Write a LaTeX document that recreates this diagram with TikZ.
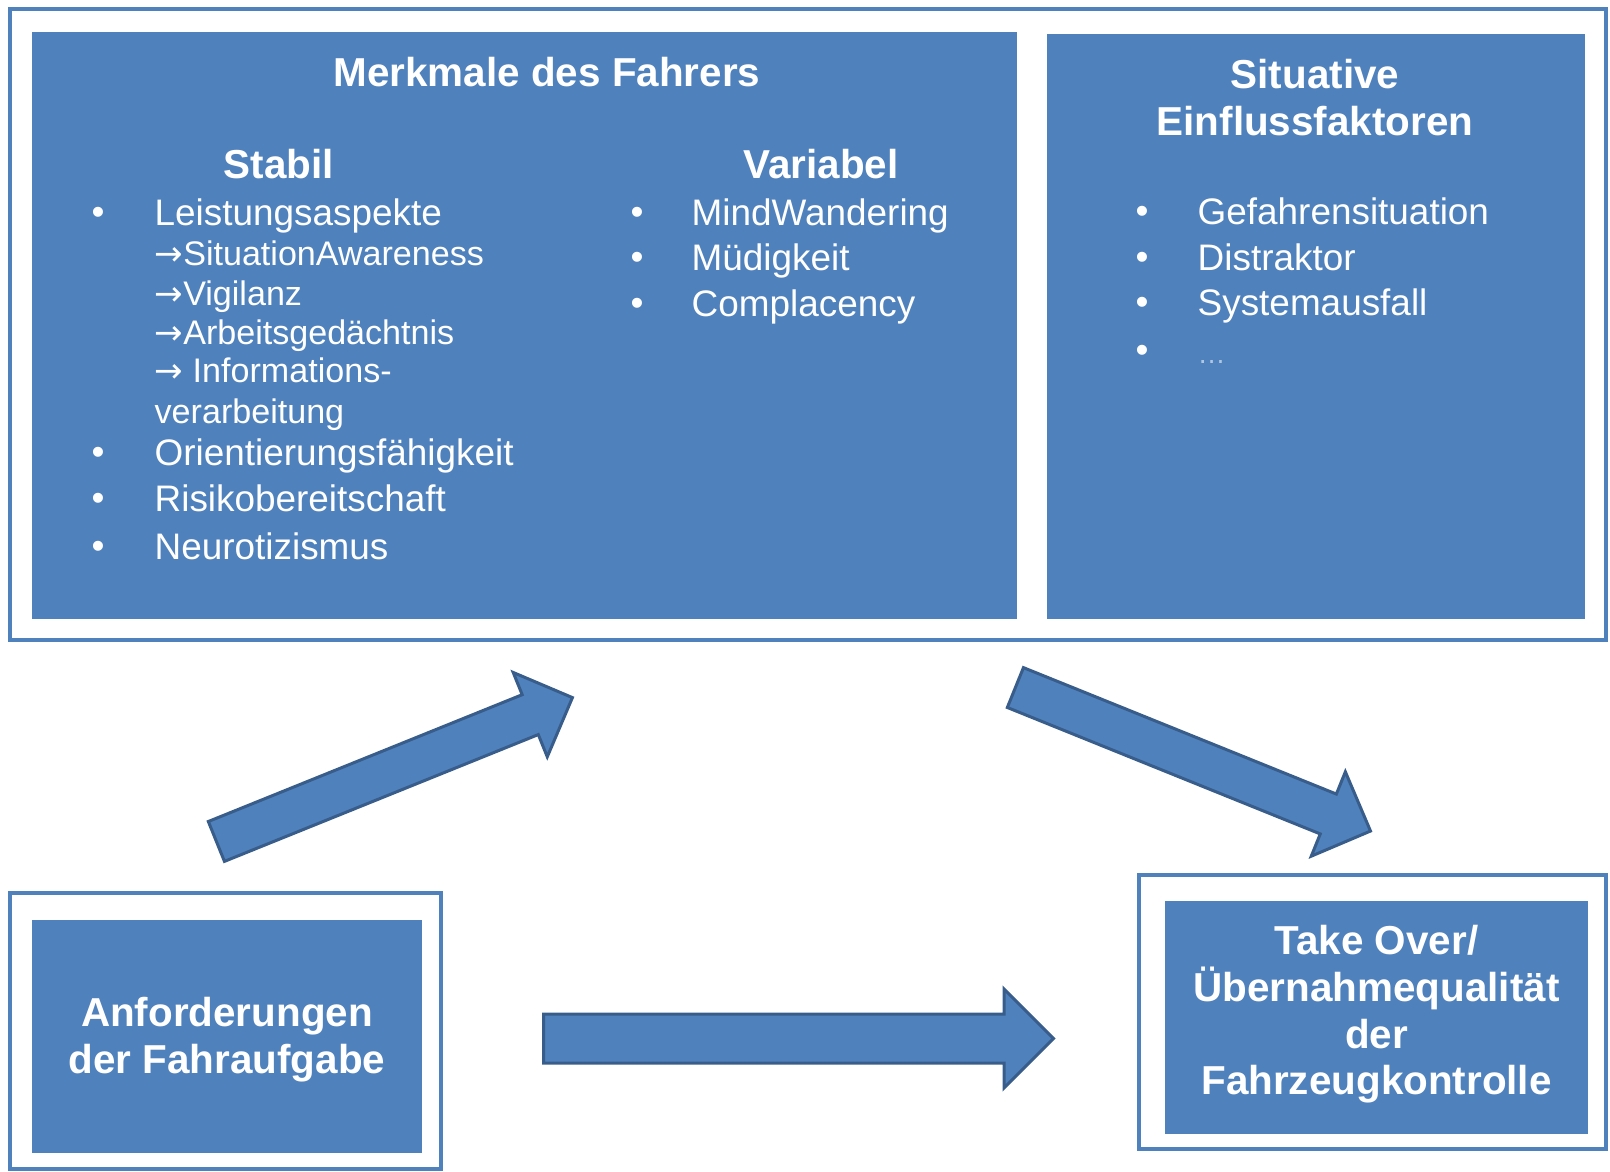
\documentclass[tikz,border=0pt]{standalone}
\usepackage{fontspec}
\setmainfont{Liberation Sans}
\newfontfamily\pfeilfont{DejaVu Sans}
\usetikzlibrary{shapes.arrows}

\definecolor{boxblau}{HTML}{4F81BD}
\definecolor{pfeilrand}{HTML}{385D8A}

\tikzset{
    rahmen/.style={draw=boxblau, line width=0.45mm, inner sep=0pt},
    kasten/.style={fill=boxblau, inner sep=0pt},
    titel/.style={text=white, font=\fontsize{11.5}{13.3}\selectfont\bfseries, align=center, inner sep=0pt},
    eintrag/.style={text=white, font=\fontsize{10.5}{12.6}\selectfont, anchor=west, inner sep=0pt, text height=2.7mm, text depth=0.8mm},
    untereintrag/.style={eintrag, font=\fontsize{9.7}{11.6}\selectfont},
    punkt/.style={text=white, font=\fontsize{10.5}{12}\selectfont, inner sep=0pt},
    blockpfeil/.style={single arrow, draw=pfeilrand, fill=boxblau, line width=0.3mm, single arrow tip angle=90, inner sep=2.0mm, single arrow head extend=2.4mm, anchor=tail}
}

\begin{document}
\begin{tikzpicture}
        \useasboundingbox (0,0) rectangle (16.10,-11.72);

        % Rahmen
        \node[rahmen, minimum width=15.96cm, minimum height=6.31cm] (oben) at (8.08,-3.245) {};
        \node[rahmen, minimum width=4.31cm, minimum height=2.76cm] (linksrahmen) at (2.255,-10.31) {};
        \node[rahmen, minimum width=4.67cm, minimum height=2.74cm] (rechtsrahmen) at (13.725,-10.12) {};

        % Kaesten
        \node[kasten, minimum width=9.85cm, minimum height=5.87cm] (merkmale) at (5.245,-3.255) {};
        \node[kasten, minimum width=5.38cm, minimum height=5.85cm] (situativ) at (13.16,-3.265) {};
        \node[kasten, minimum width=3.90cm, minimum height=2.33cm] (anforderung) at (2.27,-10.365) {};
        \node[kasten, minimum width=4.23cm, minimum height=2.33cm] (uebernahme) at (13.765,-10.175) {};
        \node[titel] (anftext) at ([yshift=-0.35mm]anforderung.center) {Anforderungen\\der Fahraufgabe};
        \node[titel] (uebtext) at ([yshift=0.3mm]uebernahme.center) {Take Over/\\Übernahmequalität\\der\\Fahrzeugkontrolle};

        % Ueberschriften
        \node[titel] (kopf) at (5.47,-0.72) {Merkmale des Fahrers};
        \node[titel] (stabil) at (2.79,-1.64) {Stabil};
        \node[titel] (variabel) at (8.21,-1.64) {Variabel};
        \node[titel] (kopfsit) at (13.15,-0.975) {Situative\\Einflussfaktoren};

        % Stabil
        \foreach \y/\txt [count=\i] in {2.16/Leistungsaspekte, 4.56/Orientierungsfähigkeit, 5.02/Risikobereitschaft, 5.50/Neurotizismus}{
            \node[punkt] (sp\i) at (0.98,-\y) {•};
            \node[eintrag] (st\i) at (1.54,-\y) {\txt};
        }
        \foreach \y/\txt [count=\i] in {2.56/{\pfeilfont →}SituationAwareness, 2.96/{\pfeilfont →}Vigilanz, 3.35/{\pfeilfont →}Arbeitsgedächtnis, 3.73/{\pfeilfont →} Informations-, 4.14/verarbeitung}
            \node[untereintrag] (su\i) at (1.54,-\y) {\txt};

        % Variabel
        \foreach \y/\txt [count=\i] in {2.16/MindWandering, 2.61/Müdigkeit, 3.07/Complacency}{
            \node[punkt] (vp\i) at (6.37,-\y) {•};
            \node[eintrag] (va\i) at (6.91,-\y) {\txt};
        }

        % Situative Faktoren
        \foreach \y/\txt [count=\i] in {2.15/Gefahrensituation, 2.61/Distraktor, 3.06/Systemausfall}{
            \node[punkt] (fp\i) at (11.42,-\y) {•};
            \node[eintrag] (fa\i) at (11.97,-\y) {\txt};
        }
        \node[punkt] (fp4) at (11.42,-3.54) {•};
        \node[eintrag, text=white!55!boxblau, font=\fontsize{8}{9}\selectfont] (fa4) at (11.97,-3.54) {…};

        % Pfeile
        \coordinate (startA) at (2.15,-8.42);
        \coordinate (startB) at (10.14,-6.87);
        \coordinate (startC) at (5.42,-10.385);
        \node[blockpfeil, minimum height=3.84cm, rotate=22] (pfeilA) at (startA) {};
        \node[blockpfeil, minimum height=3.83cm, rotate=-22] (pfeilB) at (startB) {};
        \node[blockpfeil, minimum height=5.10cm, inner sep=2.3mm, single arrow head extend=2.5mm] (pfeilC) at (startC) {};
\end{tikzpicture}
\end{document}
